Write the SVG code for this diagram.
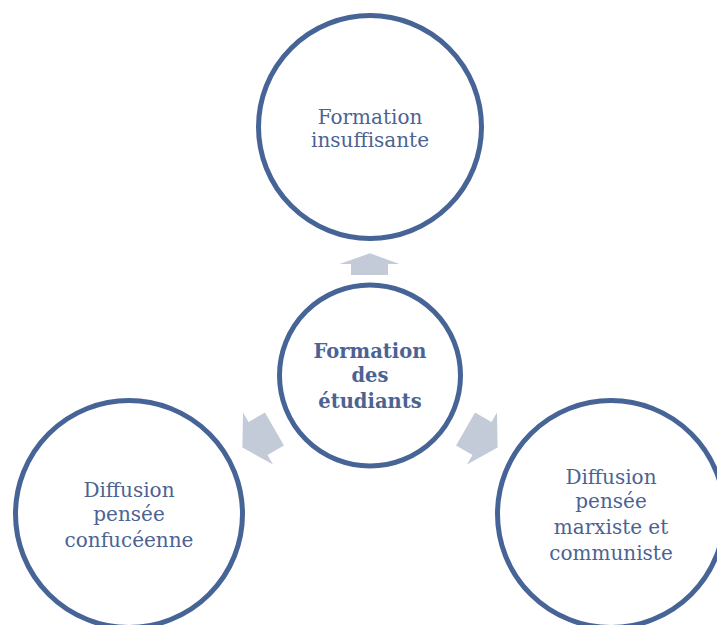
<svg xmlns="http://www.w3.org/2000/svg" width="717" height="625" viewBox="0 0 717 625">
<style>
.node circle{fill:#ffffff;stroke:#476497;stroke-width:5}
.lbl{font-family:"DejaVu Serif","Liberation Serif",serif;font-size:20px;fill:#4B6393;text-anchor:middle}
.bold{font-weight:bold;font-size:19.5px}
.arr{fill:#C3CAD8}
</style>
<defs>
<path id="diag" d="M0,-18 L30,0 L19,0 L19,19 L-19,19 L-19,0 L-30,0 Z"/>
</defs>
<g id="connectors">
<path class="arr" d="M370,253.3 L399.5,264 L388,264 L388,275 L351,275 L351,264 L339.5,264 Z"/>
<use href="#diag" class="arr" transform="translate(258,438.5) rotate(-120)"/>
<use href="#diag" class="arr" transform="translate(482,438.5) rotate(120)"/>
</g>
<g id="node-top" class="node">
<circle cx="370" cy="127" r="111.5"/>
<text class="lbl" x="370" y="124.3">Formation</text>
<text class="lbl" x="370" y="146.7">insuffisante</text>
</g>
<g id="node-center" class="node">
<circle cx="370" cy="375.5" r="90.5"/>
<text class="lbl bold" x="370" y="357.5">Formation</text>
<text class="lbl bold" x="370" y="382">des</text>
<text class="lbl bold" x="370" y="407.5">étudiants</text>
</g>
<g id="node-left" class="node">
<circle cx="129" cy="514" r="113.5"/>
<text class="lbl" x="129" y="496.7">Diffusion</text>
<text class="lbl" x="129" y="520.7">pensée</text>
<text class="lbl" x="129" y="546.7">confucéenne</text>
</g>
<g id="node-right" class="node">
<circle cx="611" cy="514" r="113.5"/>
<text class="lbl" x="611" y="484">Diffusion</text>
<text class="lbl" x="611" y="507.5">pensée</text>
<text class="lbl" x="611" y="534">marxiste et</text>
<text class="lbl" x="611" y="560">communiste</text>
</g>
</svg>
